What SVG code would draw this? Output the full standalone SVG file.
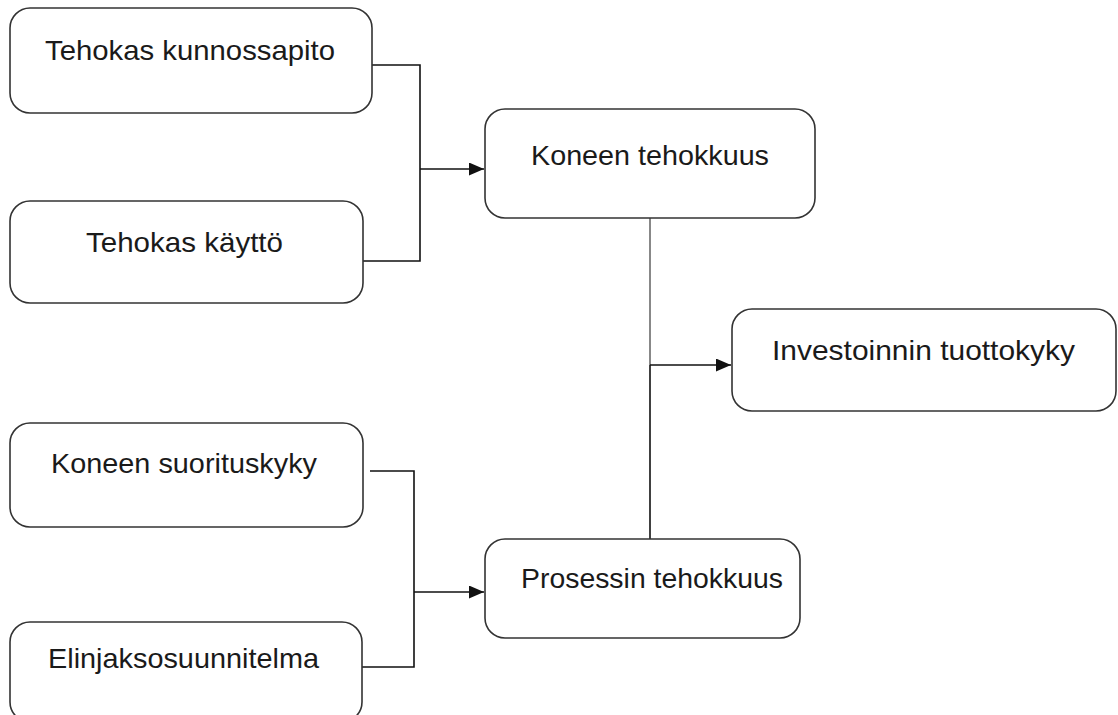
<svg xmlns="http://www.w3.org/2000/svg" width="1118" height="715" viewBox="0 0 1118 715">
  <style>
    .box { fill: #ffffff; stroke: #333333; stroke-width: 1.6; }
    .lbl { font-family: "Liberation Sans", Arial, sans-serif; font-size: 28px; fill: #1a1a1a; }
    .wire { fill: none; stroke: #111111; stroke-width: 1.6; }
    .wire-grey { fill: none; stroke: #888888; stroke-width: 2; }
  </style>
  <defs>
    <marker id="arrow" markerWidth="15" markerHeight="13" refX="15" refY="6.5" orient="auto" markerUnits="userSpaceOnUse">
      <path d="M0,0 L15,6.5 L0,13 Z" fill="#111111"/>
    </marker>
  </defs>
  <rect width="1118" height="715" fill="#ffffff"/>

  <g id="connectors">
    <path class="wire" d="M372,65 H420 V261 H363"/>
    <path class="wire" d="M420,169 H484" marker-end="url(#arrow)"/>
    <path class="wire-grey" d="M650,218 V365"/>
    <path class="wire" d="M650,365 V540"/>
    <path class="wire" d="M650,365 H731" marker-end="url(#arrow)"/>
    <path class="wire" d="M370,471 H414 V667 H362"/>
    <path class="wire" d="M414,592 H484" marker-end="url(#arrow)"/>
  </g>

  <g id="node-tehokas-kunnossapito">
    <rect class="box" x="10" y="8" width="362" height="105" rx="20"/>
    <text class="lbl" x="45" y="60" textLength="290" lengthAdjust="spacingAndGlyphs">Tehokas kunnossapito</text>
  </g>
  <g id="node-tehokas-kaytto">
    <rect class="box" x="10" y="201" width="353" height="102" rx="20"/>
    <text class="lbl" x="86" y="252" textLength="197" lengthAdjust="spacingAndGlyphs">Tehokas käyttö</text>
  </g>
  <g id="node-koneen-tehokkuus">
    <rect class="box" x="485" y="109" width="330" height="109" rx="20"/>
    <text class="lbl" x="531" y="165" textLength="238" lengthAdjust="spacingAndGlyphs">Koneen tehokkuus</text>
  </g>
  <g id="node-investoinnin-tuottokyky">
    <rect class="box" x="732" y="309" width="384" height="102" rx="20"/>
    <text class="lbl" x="772" y="360" textLength="303" lengthAdjust="spacingAndGlyphs">Investoinnin tuottokyky</text>
  </g>
  <g id="node-koneen-suorituskyky">
    <rect class="box" x="10" y="423" width="353" height="104" rx="20"/>
    <text class="lbl" x="51" y="473" textLength="266" lengthAdjust="spacingAndGlyphs">Koneen suorituskyky</text>
  </g>
  <g id="node-elinjaksosuunnitelma">
    <rect class="box" x="10" y="622" width="352" height="100" rx="20"/>
    <text class="lbl" x="48" y="668" textLength="271" lengthAdjust="spacingAndGlyphs">Elinjaksosuunnitelma</text>
  </g>
  <g id="node-prosessin-tehokkuus">
    <rect class="box" x="485" y="539" width="315" height="99" rx="20"/>
    <text class="lbl" x="521" y="588" textLength="262" lengthAdjust="spacingAndGlyphs">Prosessin tehokkuus</text>
  </g>
</svg>
